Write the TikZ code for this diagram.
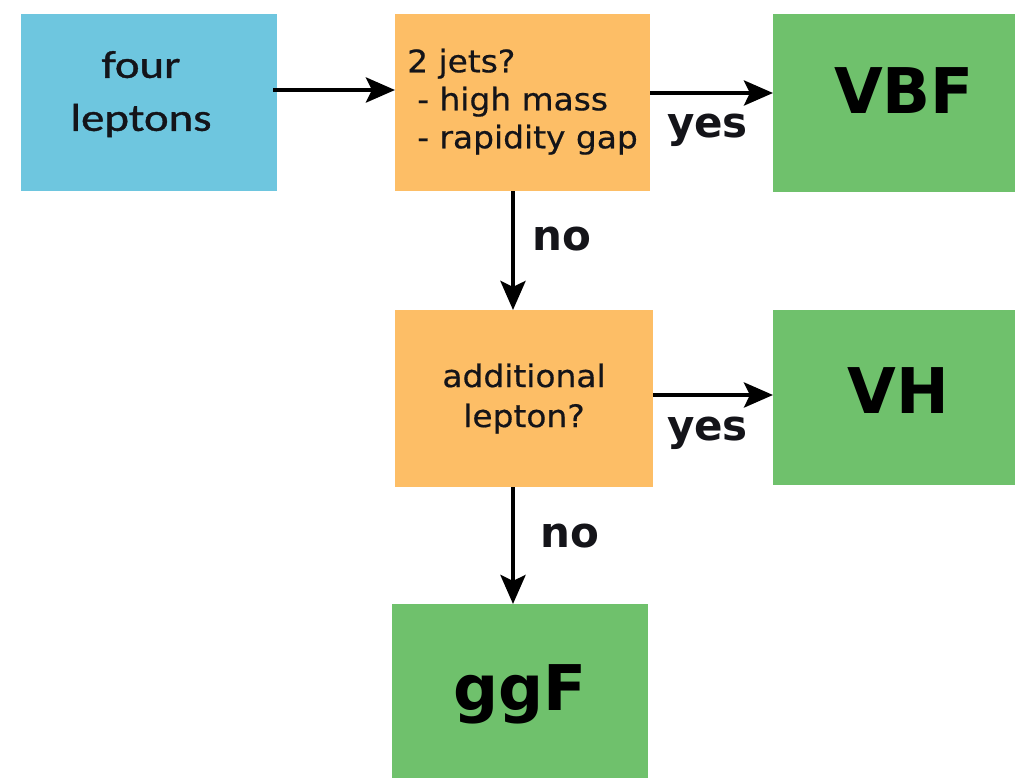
\documentclass[tikz,border=0pt]{standalone}
\usepackage{fontspec}
\usetikzlibrary{arrows.meta}
\newfontfamily\calfont[FakeStretch=1.2,FakeBold=1.0]{Carlito}
\newfontfamily\dvfont[FakeStretch=1.06,FakeBold=0.5]{DejaVu Sans}
\newfontfamily\dvbfont{DejaVu Sans}
\definecolor{cblue}{RGB}{110,198,223}
\definecolor{corange}{RGB}{253,190,102}
\definecolor{cgreen}{RGB}{111,193,108}
\definecolor{ink}{RGB}{20,20,25}
\tikzset{
  box/.style={inner sep=0pt, outer sep=0pt, text=ink},
  arr/.style={line width=4.5pt, -{Stealth[length=29pt,width=25pt,inset=6pt]}},
  lab/.style={font=\dvbfont\bfseries\fontsize{42}{50}\selectfont, text=ink, anchor=base, inner sep=0pt},
  big/.style={font=\dvbfont\bfseries\fontsize{63}{70}\selectfont, text=black}
}
\begin{document}
\begin{tikzpicture}[x=1pt,y=-1pt]
\fill[white] (0,0) rectangle (1015,777);
\path[use as bounding box] (0,0) rectangle (1015,777);

\node[box, fill=cblue, minimum width=256pt, minimum height=177pt, align=center,
      font=\calfont\fontsize{39}{53}\selectfont] (four) at (149,102.5)
      {four\hspace*{16pt}\\leptons\hspace*{16pt}\rule[-23pt]{0pt}{23pt}};
\node[box, fill=corange, minimum width=255pt, minimum height=177pt, align=left,
      font=\dvfont\fontsize{31}{38}\selectfont] (q1) at (522.5,102.5)
      {2 jets?\\\hspace*{10pt}- high mass\\\hspace*{10pt}- rapidity gap\rule[-8pt]{0pt}{8pt}};
\node[box, fill=cgreen, minimum width=262pt, minimum height=178pt, big,
      text height=46pt, text depth=26pt] (vbf) at (904,103) {VBF};
\node[box, fill=corange, minimum width=258pt, minimum height=177pt, align=center,
      font=\dvfont\fontsize{31}{40}\selectfont] (q2) at (524,398.5)
      {additional\\lepton?};
\node[box, fill=cgreen, minimum width=250pt, minimum height=175pt, big,
      text height=46pt, text depth=15pt] (vh) at (898,397.5) {VH};
\node[box, fill=cgreen, minimum width=256pt, minimum height=177pt, big,
      text height=46pt, text depth=10pt] (ggf) at (520,692.5) {ggF};

\draw[arr] ([xshift=-4pt,yshift=12.5pt]four.east) -- ([yshift=12.5pt]q1.west);
\draw[arr] ([yshift=9.5pt]q1.east) -- ([yshift=9.5pt]q1.east -| vbf.west);
\draw[arr] ([xshift=-9.5pt]q1.south) -- ([xshift=-9.5pt]q1.south |- q2.north);
\draw[arr] ([yshift=3.5pt]q2.east) -- ([yshift=3.5pt]q2.east -| vh.west);
\draw[arr] ([xshift=-11pt]q2.south) -- ([xshift=-11pt]q2.south |- ggf.north);

\node[lab] (yes1) at (707.5,137) {yes};
\node[lab] (no1) at (562,250) {no};
\node[lab] (yes2) at (707.5,440) {yes};
\node[lab] (no2) at (570,547) {no};
\end{tikzpicture}
\end{document}
